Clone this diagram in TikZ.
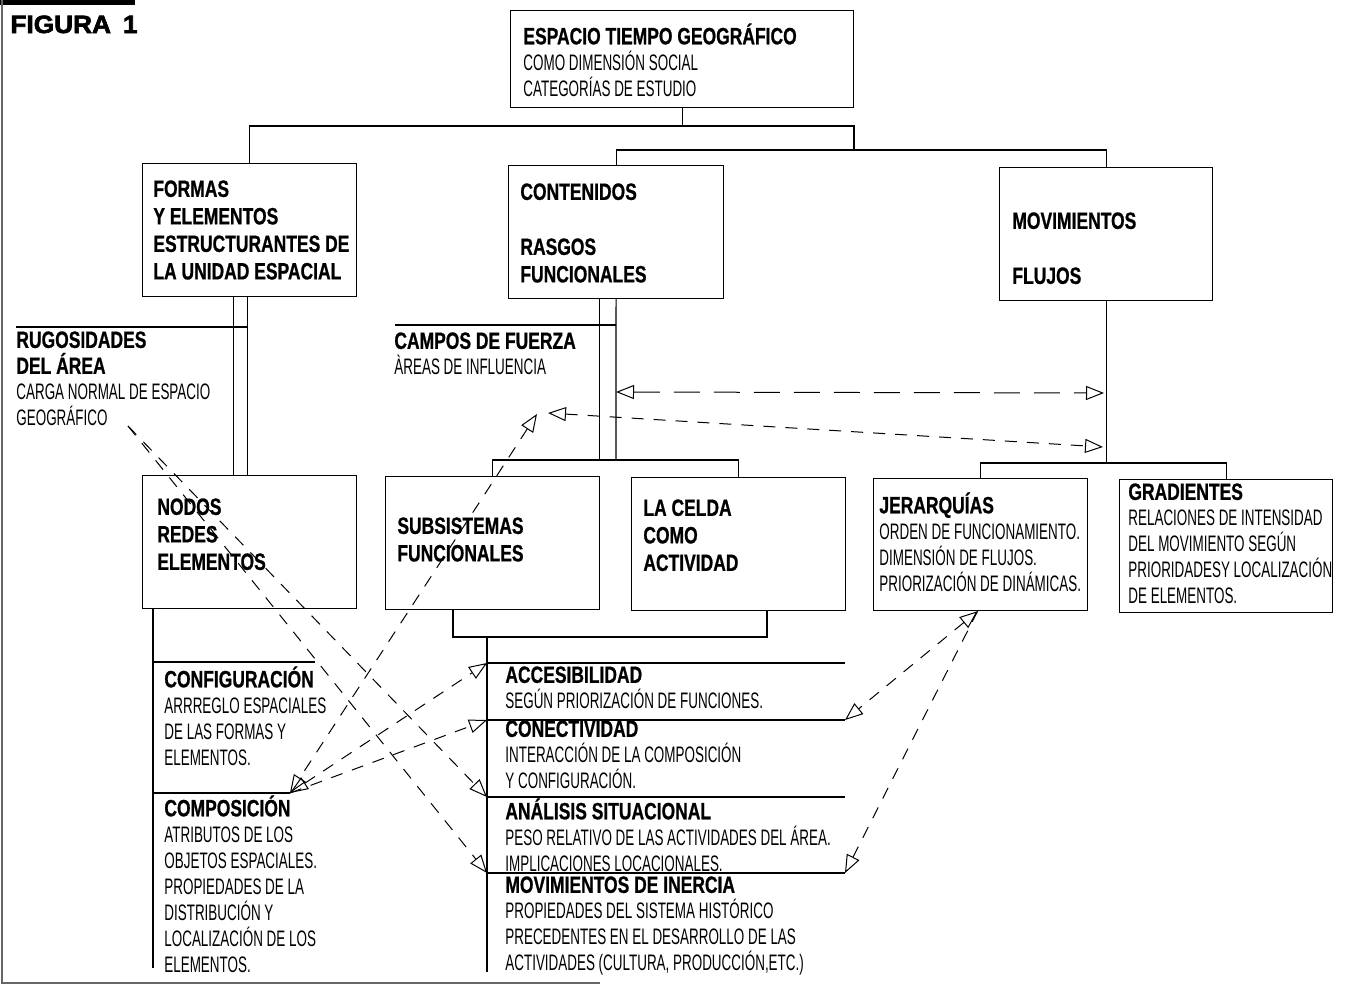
\documentclass[tikz,border=0pt]{standalone}
\usepackage{fontspec}
\usetikzlibrary{arrows.meta}
\newfontfamily\headfont[FakeStretch=0.74, FakeBold=0.8]{Liberation Sans}
\newfontfamily\bodyfont[FakeStretch=0.6]{Liberation Sans}
\newfontfamily\figfont[FakeBold=2.5, FakeStretch=1.05]{Liberation Sans}
\newcommand\hdf{\headfont\bfseries\fontsize{11.8}{13.75}\selectfont}
\newcommand\txf{\bodyfont\fontsize{11.2}{13}\selectfont}
\tikzset{
    box/.style = {draw, rectangle, line width=0.6pt, inner sep=0pt, anchor=north west, minimum width=107pt, minimum height=66.5pt},
    link/.style = {line width=0.6pt},
    boxtext/.style = {anchor=north west, inner sep=0pt, align=left, font=\hdf, execute at begin node={\rule{0pt}{10pt}}},
    listtext/.style = {anchor=north west, inner sep=0pt, align=left, font=\txf, execute at begin node={\rule{0pt}{10pt}}},
    longdash/.style = {line width=0.5pt, dash pattern=on 13pt off 7pt, >={Triangle[open, length=9pt, width=7pt]}},
    shortdash/.style = {line width=0.5pt, dash pattern=on 6pt off 5pt, >={Triangle[open, length=9pt, width=7pt]}},
}

\begin{document}
\begin{tikzpicture}[x=0.5pt, y=-0.5pt]
\useasboundingbox (0,0) rectangle (1367,985);

% frame and title
\fill (0,0) rectangle (135,5);
\draw[line width=1pt, black!60] (2,0) -- (2,983) -- (600,983);
\node[anchor=base west, inner sep=0pt, font=\figfont\bfseries\fontsize{12.5}{14}\selectfont] (fig) at (10,33) {FIGURA\hspace{6pt}1};

% boxes
\node[box, minimum width=171.5pt, minimum height=48.5pt] (espacio) at (510,10) {};
\node[box] (formas) at (142,163) {};
\node[box, minimum width=107.5pt] (contenidos) at (508,165) {};
\node[box, minimum width=106.5pt] (movimientos) at (999,167) {};
\node[box] (nodos) at (142,475) {};
\node[box] (subsistemas) at (385,476) {};
\node[box] (celda) at (631,477) {};
\node[box, minimum height=66pt] (jerarquias) at (873,478) {};
\node[box, minimum width=106.5pt] (gradientes) at (1119,479) {};

% box texts (y = first baseline - 20)
\node[listtext] (t-espacio) at (523,23) {{\hdf ESPACIO TIEMPO GEOGRÁFICO}\\COMO DIMENSIÓN SOCIAL\\CATEGORÍAS DE ESTUDIO};
\node[boxtext] (t-formas) at (153,180) {FORMAS\\Y ELEMENTOS\\ESTRUCTURANTES DE\\LA UNIDAD ESPACIAL};
\node[boxtext] (t-contenidos) at (520,183) {CONTENIDOS\\[13.75pt]RASGOS\\FUNCIONALES};
\node[boxtext] (t-movimientos) at (1012,212) {MOVIMIENTOS\\[13.75pt]FLUJOS};
\node[boxtext] (t-nodos) at (157,498) {NODOS\\REDES\\ELEMENTOS};
\node[boxtext] (t-subsistemas) at (397,517) {SUBSISTEMAS\\FUNCIONALES};
\node[boxtext] (t-celda) at (643,499) {LA CELDA\\COMO\\ACTIVIDAD};
\node[listtext] (t-jerarquias) at (879,492) {{\hdf JERARQUÍAS}\\ORDEN DE FUNCIONAMIENTO.\\DIMENSIÓN DE FLUJOS.\\PRIORIZACIÓN DE DINÁMICAS.};
\node[listtext] (t-gradientes) at (1128,483) {{\hdf GRADIENTES}\\RELACIONES DE INTENSIDAD\\DEL MOVIMIENTO SEGÚN\\PRIORIDADESY LOCALIZACIÓN\\DE ELEMENTOS.};

% side texts
\node[listtext] (t-rugosidades) at (16,331) {{\hdf RUGOSIDADES}\\{\hdf DEL ÁREA}\\CARGA NORMAL DE ESPACIO\\GEOGRÁFICO};
\node[listtext] (t-campos) at (394,332) {{\hdf CAMPOS DE FUERZA}\\ÀREAS DE INFLUENCIA};
\node[listtext] (t-configuracion) at (164,666) {{\hdf CONFIGURACIÓN}\\ARRREGLO ESPACIALES\\DE LAS FORMAS Y\\ELEMENTOS.};
\node[listtext] (t-composicion) at (164,795) {{\hdf COMPOSICIÓN}\\ATRIBUTOS DE LOS\\OBJETOS ESPACIALES.\\PROPIEDADES DE LA\\DISTRIBUCIÓN Y\\LOCALIZACIÓN DE LOS\\ELEMENTOS.};
\node[listtext] (t-accesibilidad) at (505,666) {{\hdf ACCESIBILIDAD}\\SEGÚN PRIORIZACIÓN DE FUNCIONES.};
\node[listtext] (t-conectividad) at (505,720) {{\hdf CONECTIVIDAD}\\INTERACCIÓN DE LA COMPOSICIÓN\\Y CONFIGURACIÓN.};
\node[listtext] (t-analisis) at (505,798) {{\hdf ANÁLISIS SITUACIONAL}\\PESO RELATIVO DE LAS ACTIVIDADES DEL ÁREA.\\IMPLICACIONES LOCACIONALES.};
\node[listtext] (t-inercia) at (505,876) {{\hdf MOVIMIENTOS DE INERCIA}\\PROPIEDADES DEL SISTEMA HISTÓRICO\\PRECEDENTES EN EL DESARROLLO DE LAS\\ACTIVIDADES (CULTURA, PRODUCCIÓN,ETC.)};

% tree
\coordinate (j1) at (854,126);
\coordinate (j2) at (854,150);
\draw[link] (espacio.south) -- (espacio.south |- j1);
\draw[link] (formas.north) |- (j1) -- (j2) -| (movimientos.north);
\draw[link] (contenidos.north) |- (j2);

% formas -> nodos
\coordinate (rugo) at (16,327);
\coordinate (fr) at ([xshift=-1pt]formas.south);
\draw[link] ([xshift=-8pt]formas.south) -- ([xshift=-8pt]nodos.north);
\draw[link] (fr) -- ([xshift=-1pt]nodos.north);
\draw[link] (rugo) -- (rugo -| fr);

% contenidos -> subsistemas, celda
\coordinate (c2) at (616,460);
\coordinate (campos) at (395,325);
\draw[link] (contenidos.south) -- (c2);
\draw[link] ([xshift=-8.5pt]contenidos.south) -- ([xshift=-8.5pt]contenidos.south |- c2);
\draw[link] (subsistemas.north) |- (c2) -| (celda.north);
\draw[link] (campos) -- (campos -| contenidos.south);

% movimientos -> jerarquias, gradientes
\coordinate (m2) at (1104,463);
\draw[link] (movimientos.south) -- (movimientos.south |- m2);
\draw[link] (jerarquias.north) |- (m2) -| (gradientes.north);

% lower right list
\coordinate (b1) at (453,637);
\coordinate (b2) at (767,637);
\coordinate (acc) at (487,663);
\coordinate (con) at (487,720);
\coordinate (ana) at (487,797);
\coordinate (iner) at (487,873);
\draw[link] (b1 |- subsistemas.south) -- (b1) -- (b2) -- (b2 |- celda.south);
\draw[link] (acc |- b1) -- (487,972);
\foreach \p in {acc, con, ana, iner}
    \draw[link] (\p) -- ++(358,0) coordinate (\p-r);

% lower left list
\coordinate (conf) at (153,662);
\coordinate (comp) at (153,793);
\draw[link] (conf |- nodos.south) -- (153,968);
\draw[link] (conf) -- ++(162,0);
\draw[link] (comp) -- ++(137,0) coordinate (comp-r);

% dashed relations
\coordinate (fz1) at (616,392);
\coordinate (mv1) at (1104,393);
\coordinate (fz2) at (548,413);
\coordinate (mv2) at (1103,447);
\coordinate (fz3) at (537,414);
\coordinate (rg) at (128,426);
\draw[longdash, <->] (fz1) -- (mv1);
\draw[shortdash, <->] (fz2) -- (mv2);
\draw[shortdash, <->] (fz3) -- (comp-r);
\draw[shortdash, <->] (comp-r) -- (acc);
\draw[shortdash, ->] (comp-r) -- (con);
\draw[shortdash, ->] (rg) -- (ana);
\draw[shortdash, ->] (rg) -- (iner);
\draw[shortdash, <->] ([xshift=-1.5pt]jerarquias.south) -- (con-r);
\draw[shortdash, ->] ([xshift=-1.5pt]jerarquias.south) -- (iner-r);
\end{tikzpicture}
\end{document}
